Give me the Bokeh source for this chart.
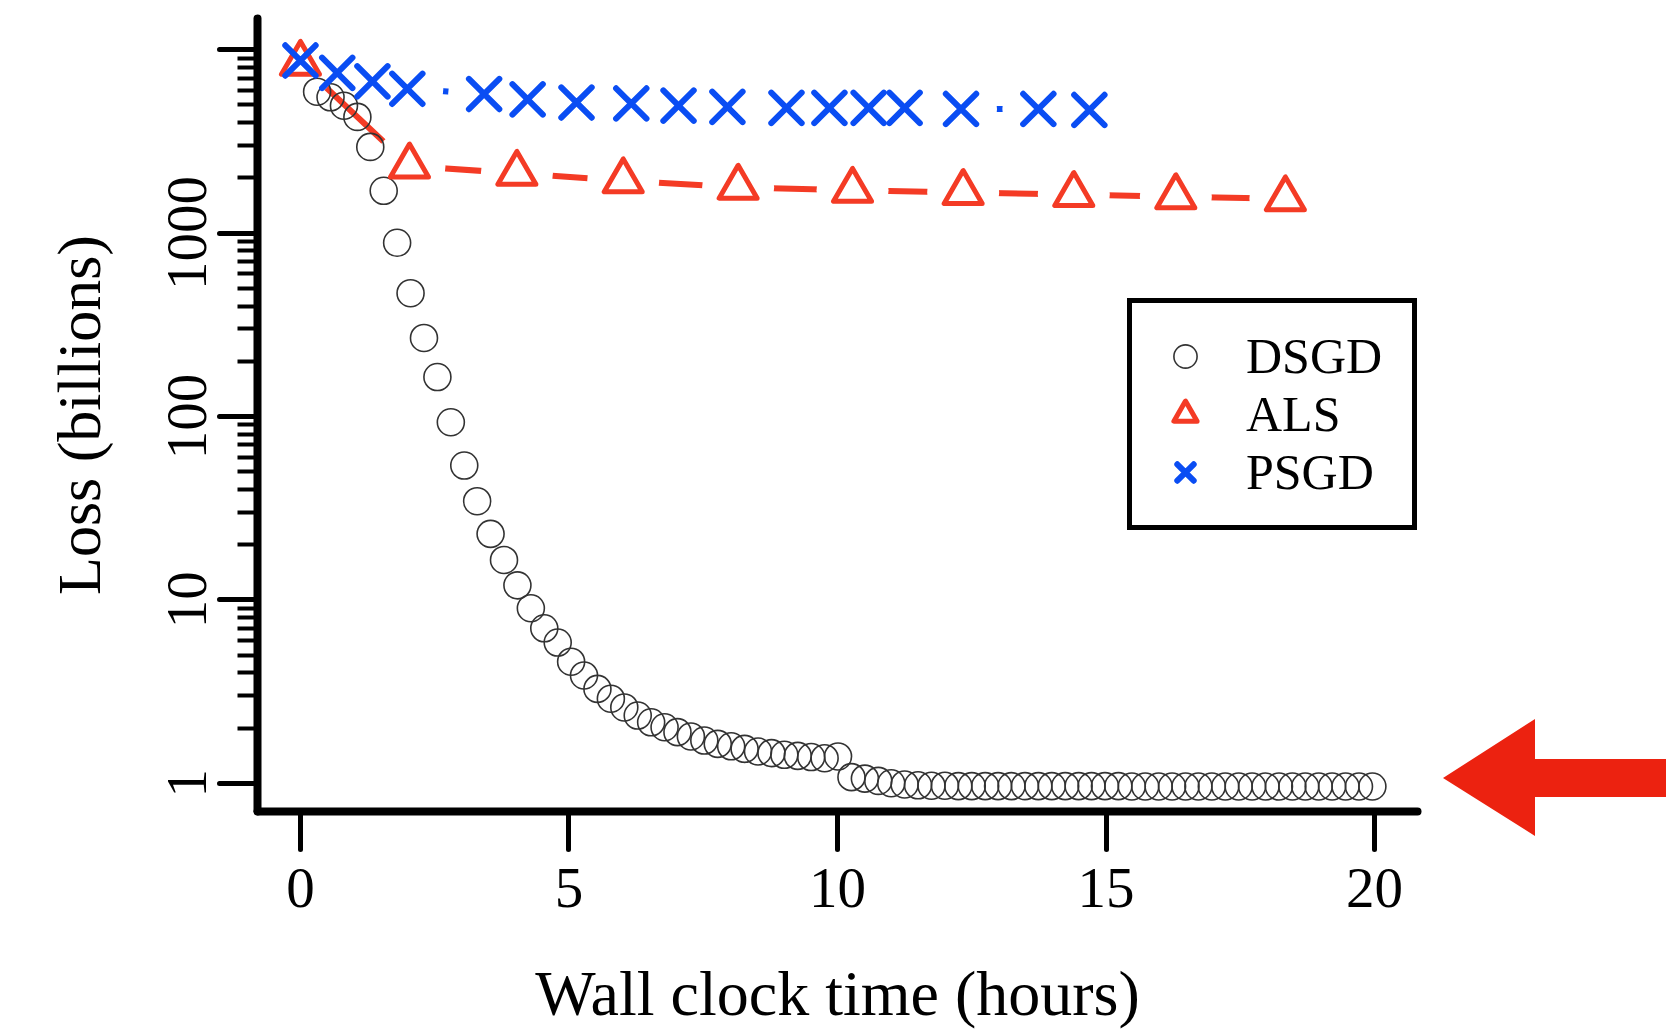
import math
from bokeh.plotting import figure
from bokeh.layouts import row
from bokeh.models import (Range1d, FixedTicker, CustomJSTickFormatter, Legend,
                          LegendItem, Div)
from bokeh.embed import file_html
from bokeh.resources import INLINE

# ---------------- data ----------------
dsgd_hours = [0.31, 0.56, 0.81, 1.06, 1.30, 1.55, 1.80, 2.05, 2.30, 2.55,
              2.80, 3.05, 3.29, 3.54, 3.79, 4.04, 4.29, 4.54, 4.79, 5.04,
              5.28, 5.53, 5.78, 6.03, 6.28, 6.53, 6.78, 7.02, 7.27, 7.52,
              7.77, 8.02, 8.27, 8.52, 8.77, 9.01, 9.26, 9.51, 9.76, 10.01,
              10.26, 10.51, 10.76, 11.00, 11.25, 11.50, 11.75, 12.00, 12.25, 12.50,
              12.75, 12.99, 13.24, 13.49, 13.74, 13.99, 14.24, 14.49, 14.73, 14.98,
              15.23, 15.48, 15.73, 15.98, 16.23, 16.48, 16.72, 16.97, 17.22, 17.47,
              17.72, 17.97, 18.22, 18.47, 18.71, 18.96, 19.21, 19.46, 19.71, 19.96]
dsgd_loss = [5900, 5500, 4950, 4300, 2950, 1700, 885, 470, 268, 164,
             93, 54, 34.5, 22.9, 16.5, 12.0, 9.0, 7.0, 5.85, 4.6,
             3.87, 3.27, 2.89, 2.59, 2.34, 2.15, 2.02, 1.90, 1.80, 1.71,
             1.64, 1.59, 1.54, 1.49, 1.46, 1.43, 1.41, 1.39, 1.37, 1.40,
             1.08, 1.06, 1.03, 1.00, 0.985, 0.975, 0.97, 0.97, 0.965, 0.965,
             0.965, 0.965, 0.965, 0.965, 0.965, 0.965, 0.965, 0.965, 0.965, 0.965,
             0.965, 0.96, 0.96, 0.96, 0.96, 0.96, 0.96, 0.96, 0.96, 0.96,
             0.96, 0.96, 0.96, 0.96, 0.96, 0.96, 0.96, 0.96, 0.96, 0.96]

als_hours = [0.0, 2.03, 4.03, 6.01, 8.15, 10.28, 12.34, 14.40, 16.30, 18.34]
als_loss = [8420, 2320, 2117, 1927, 1778, 1710, 1663, 1622, 1578, 1537]

psgd_hours = [0.0, 0.685, 1.34, 1.99, 3.42, 4.23, 5.14, 6.16, 7.04, 7.95,
              9.05, 9.85, 10.58, 11.25, 12.30, 13.74, 14.69]
psgd_loss = [8730, 7480, 6720, 6120, 5730, 5360, 5150, 5090, 4950, 4880,
             4815, 4815, 4815, 4815, 4750, 4750, 4690]

x_ticks = [0, 5, 10, 15, 20]
y_ticks = [1, 10, 100, 1000, 10000]
y_minor = [2, 3, 4, 5, 6, 7, 8, 9, 20, 30, 40, 50, 60, 70, 80, 90,
           200, 300, 400, 500, 600, 700, 800, 900,
           2000, 3000, 4000, 5000, 6000, 7000, 8000, 9000]

series_names = ["DSGD", "ALS", "PSGD"]

# ---------------- styles ----------------
RED = "#F43B25"
BLUE = "#0A4DF3"
CIRC = "#333333"
ARROW = "#EC2210"
FONT = "Liberation Serif"

p = figure(frame_width=1160, frame_height=793,
           min_border_left=257, min_border_right=26,
           min_border_top=18, min_border_bottom=218,
           x_range=Range1d(-0.8, 20.8),
           y_range=Range1d(10 ** -0.154, 10 ** 4.170),
           y_axis_type="log", output_backend="svg", toolbar_location=None,
           background_fill_color="white", border_fill_color="white")
p.outline_line_color = None
p.grid.visible = False

# lines with gaps around the points (R type="b"): line, then white disks
p.line(psgd_hours, psgd_loss, line_color=BLUE, line_width=6)
p.scatter(psgd_hours, psgd_loss, marker="circle", size=72,
          fill_color="white", line_color=None)
p.line(als_hours, als_loss, line_color=RED, line_width=6)
p.scatter(als_hours, als_loss, marker="circle", size=72,
          fill_color="white", line_color=None)

r_dsgd = p.scatter(dsgd_hours, dsgd_loss, marker="circle", size=27,
                   fill_color=None, line_color=CIRC, line_width=1.6)
r_als = p.scatter(als_hours, als_loss, marker="triangle", size=38,
                  fill_color=None, line_color=RED, line_width=5,
                  line_join="round")
r_psgd = p.scatter(psgd_hours, psgd_loss, marker="x", size=43,
                   line_color=BLUE, line_width=6, line_cap="round")

# ---------------- axes ----------------
for ax in (p.xaxis, p.yaxis):
    ax.axis_line_width = 8
    ax.axis_line_cap = "round"
    ax.major_tick_in = 0
    ax.major_tick_out = 38
    ax.major_tick_line_width = 5
    ax.major_tick_line_cap = "round"
    ax.minor_tick_in = 0
    ax.minor_tick_out = 20
    ax.minor_tick_line_width = 4
    ax.major_label_text_font = FONT
    ax.major_label_text_font_size = "57px"
    ax.major_label_text_color = "black"
    ax.axis_label_text_font = FONT
    ax.axis_label_text_font_style = "normal"
    ax.axis_label_text_color = "black"

p.xaxis.ticker = FixedTicker(ticks=x_ticks, minor_ticks=[])
p.xaxis.major_label_standoff = 19
p.xaxis.axis_label = "Wall clock time (hours)"
p.xaxis.axis_label_text_font_size = "64px"
p.xaxis.axis_label_standoff = 48

p.yaxis.ticker = FixedTicker(ticks=y_ticks, minor_ticks=y_minor)
p.yaxis.formatter = CustomJSTickFormatter(
    code="return tick > 5000 ? '' : String(Math.round(tick));")
p.yaxis.major_label_orientation = "parallel"
p.yaxis.major_label_standoff = 13
p.yaxis.axis_label = "Loss (billions)"
p.yaxis.axis_label_text_font_size = "62px"
p.yaxis.axis_label_standoff = 53

# ---------------- legend ----------------
legend = Legend(items=[LegendItem(label=series_names[0], renderers=[r_dsgd]),
                       LegendItem(label=series_names[1], renderers=[r_als]),
                       LegendItem(label=series_names[2], renderers=[r_psgd])],
                location=(870, 281), orientation="vertical",
                padding=24, spacing=0, glyph_width=58, glyph_height=58,
                label_standoff=32, label_width=142,
                label_text_font=FONT, label_text_font_size="50px",
                label_text_color="black",
                border_line_color="black", border_line_width=5,
                border_line_alpha=1.0,
                background_fill_color="white", background_fill_alpha=1.0)
p.add_layout(legend, "center")

# ---------------- red arrow (decoration right of the plot) ----------------
arrow_points = "0,778 92,719 92,759 223,759 223,797 92,797 92,836"
side = Div(text=('<svg width="223" height="1029" style="display:block">'
                 f'<polygon points="{arrow_points}" fill="{ARROW}"/></svg>'),
           width=223, height=1029, margin=(0, 0, 0, 0))

layout = row(p, side, spacing=0)
open("out.html", "w").write(file_html(layout, INLINE))
